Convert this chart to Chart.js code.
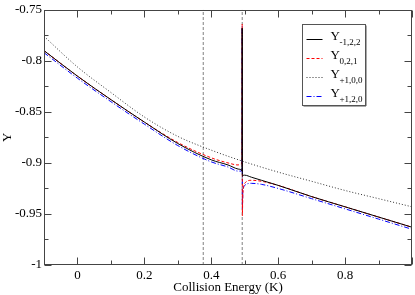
<!DOCTYPE html>
<html>
<head>
    <title>Collision Energy</title>
    <script src="https://cdn.jsdelivr.net/npm/chart.js"></script>
    <style>
        body { margin: 0; background: #fff; }
        #wrap { width: 415px; height: 295px; }
    </style>
</head>
<body>
    <div id="wrap"><canvas id="yChart" width="415" height="295"></canvas></div>

    <script>
        // energies (K) shared by the three resonant series
        const energy = [-0.1, 0, 0.1, 0.2, 0.3, 0.4, 0.45, 0.48, 0.4905, 0.4918, 0.4924, 0.4930, 0.4940, 0.4960, 0.50, 0.52, 0.55, 0.6, 0.7, 0.8, 0.9, 1.0];
        const yM122 = [-0.790, -0.815, -0.838, -0.860, -0.881, -0.897, -0.902, -0.906, -0.907, -0.908, -0.768, -0.913, -0.913, -0.912, -0.912, -0.914, -0.917, -0.922, -0.933, -0.943, -0.953, -0.963];
        const y021  = [-0.790, -0.815, -0.838, -0.860, -0.880, -0.895, -0.900, -0.902, -0.901, -0.897, -0.764, -0.952, -0.935, -0.925, -0.920, -0.917, -0.918, -0.922, -0.933, -0.943, -0.953, -0.963];
        const yP120 = [-0.792, -0.817, -0.840, -0.862, -0.883, -0.899, -0.904, -0.908, -0.908, -0.905, -0.766, -0.945, -0.932, -0.925, -0.922, -0.920, -0.921, -0.925, -0.935, -0.945, -0.955, -0.965];

        // the non-resonant series
        const energyP100 = [-0.1, 0, 0.1, 0.2, 0.3, 0.4, 0.5, 0.6, 0.7, 0.8, 0.9, 1.0];
        const yP100 = [-0.776, -0.806, -0.831, -0.855, -0.874, -0.8875, -0.899, -0.909, -0.918, -0.927, -0.935, -0.943];

        // threshold energies (dashed verticals)
        const thresholds = [0.376, 0.4925];

        const legendSubs = ['-1,2,2', '0,2,1', '+1,0,0', '+1,2,0'];

        const FONT = "'Liberation Serif', 'DejaVu Serif', serif";

        function pts(xs, ys) {
            return xs.map((x, i) => ({ x: x, y: ys[i] }));
        }

        const datasets = [
            { label: 'Y-1,2,2', data: pts(energy, yM122), borderColor: '#000000', borderDash: [] },
            { label: 'Y0,2,1', data: pts(energy, y021), borderColor: '#ff0000', borderDash: [3, 2] },
            { label: 'Y+1,0,0', data: pts(energyP100, yP100), borderColor: '#333333', borderDash: [1, 2] },
            { label: 'Y+1,2,0', data: pts(energy, yP120), borderColor: '#0000ff', borderDash: [5, 2, 1, 2] }
        ].map(d => Object.assign(d, { borderWidth: 1, pointRadius: 0, fill: false, cubicInterpolationMode: 'monotone' }));

        thresholds.forEach(t => {
            datasets.push({
                label: 'threshold',
                data: [{ x: t, y: -1 }, { x: t, y: -0.75 }],
                borderColor: '#808080',
                borderWidth: 1,
                borderDash: [3, 2],
                pointRadius: 0,
                fill: false
            });
        });

        // inward ticks on all four sides + frame + legend box
        const frameAndLegend = {
            id: 'frameAndLegend',
            afterDraw(chart) {
                const ctx = chart.ctx;
                const a = chart.chartArea;
                const xs = chart.scales.x, ys = chart.scales.y;
                const L = Math.round(a.left) + 0.5, R = Math.round(a.right) - 0.5;
                const T = Math.round(a.top) + 0.5, B = Math.round(a.bottom) - 0.5;
                ctx.save();
                ctx.strokeStyle = '#444';
                ctx.lineWidth = 1;
                ctx.setLineDash([]);
                ctx.strokeRect(L, T, R - L, B - T);

                ctx.beginPath();
                xs.ticks.forEach(t => {
                    const p = Math.round(xs.getPixelForValue(t.value)) + 0.5;
                    const major = Math.round(t.value * 10) % 2 === 0;
                    const len = major ? 7 : 4;
                    ctx.moveTo(p, B); ctx.lineTo(p, B - len);
                    ctx.moveTo(p, T); ctx.lineTo(p, T + len);
                });
                ys.ticks.forEach(t => {
                    const p = Math.round(ys.getPixelForValue(t.value)) + 0.5;
                    const major = Math.round(t.value * 1000) % 50 === 0;
                    const len = major ? 7 : 4;
                    ctx.moveTo(L, p); ctx.lineTo(L + len, p);
                    ctx.moveTo(R, p); ctx.lineTo(R - len, p);
                });
                ctx.stroke();

                // legend
                const bx = 302.5, by = 24.5, bw = 63, bh = 81;
                ctx.fillStyle = '#fff';
                ctx.fillRect(bx, by, bw, bh);
                ctx.strokeStyle = '#555';
                ctx.strokeRect(bx, by, bw, bh);
                ctx.beginPath();
                ctx.moveTo(bx + 1, by + bh + 0.5); ctx.lineTo(bx + bw + 0.5, by + bh + 0.5); ctx.lineTo(bx + bw + 0.5, by + 1);
                ctx.stroke();

                for (let i = 0; i < 4; i++) {
                    const ds = chart.data.datasets[i];
                    const cy = by + 14 + i * 19;
                    ctx.strokeStyle = ds.borderColor;
                    ctx.setLineDash(ds.borderDash);
                    ctx.beginPath();
                    ctx.moveTo(bx + 4, Math.round(cy) + 0.5);
                    ctx.lineTo(bx + 20, Math.round(cy) + 0.5);
                    ctx.stroke();
                    ctx.setLineDash([]);
                    ctx.fillStyle = '#000';
                    ctx.textBaseline = 'alphabetic';
                    ctx.textAlign = 'left';
                    ctx.font = '13px ' + FONT;
                    ctx.fillText('Y', bx + 28, cy + 1);
                    ctx.font = '9px ' + FONT;
                    ctx.fillText(legendSubs[i], bx + 37, cy + 6);
                }
                ctx.restore();
            }
        };

        function createChart() {
            const c = document.getElementById('yChart').getContext('2d');
            new Chart(c, {
                type: 'line',
                data: { datasets: datasets },
                options: {
                    responsive: false,
                    animation: false,
                    layout: { padding: { top: 5, right: 2, left: 0, bottom: 0 } },
                    plugins: { legend: { display: false }, tooltip: { enabled: false } },
                    scales: {
                        x: {
                            type: 'linear',
                            min: -0.1,
                            max: 1.0,
                            grid: { display: false, drawTicks: false },
                            border: { display: false },
                            ticks: {
                                stepSize: 0.1,
                                autoSkip: false,
                                maxRotation: 0,
                                padding: 3,
                                color: '#000',
                                font: { family: FONT, size: 13 },
                                callback: v => {
                                    const r = Math.round(v * 10);
                                    if (r % 2 !== 0 || r < 0 || r > 8) return '';
                                    return String(r / 10);
                                }
                            },
                            title: {
                                display: true,
                                text: 'Collision Energy (K)',
                                color: '#000',
                                font: { family: FONT, size: 13 },
                                padding: { top: 0, bottom: 0 }
                            },
                            afterFit: s => { s.height = 30; }
                        },
                        y: {
                            min: -1,
                            max: -0.75,
                            grid: { display: false, drawTicks: false },
                            border: { display: false },
                            ticks: {
                                stepSize: 0.025,
                                autoSkip: false,
                                padding: 2,
                                color: '#000',
                                font: { family: FONT, size: 13 },
                                callback: v => {
                                    const r = Math.round(v * 1000);
                                    if (r % 50 !== 0) return '';
                                    return String(r / 1000);
                                }
                            },
                            title: {
                                display: true,
                                text: 'Y',
                                color: '#000',
                                font: { family: FONT, size: 13 },
                                padding: { top: 0, bottom: 0 }
                            },
                            afterFit: s => { s.width = 44; }
                        }
                    }
                },
                plugins: [frameAndLegend]
            });
        }

        window.onload = createChart;
    </script>
</body>
</html>
